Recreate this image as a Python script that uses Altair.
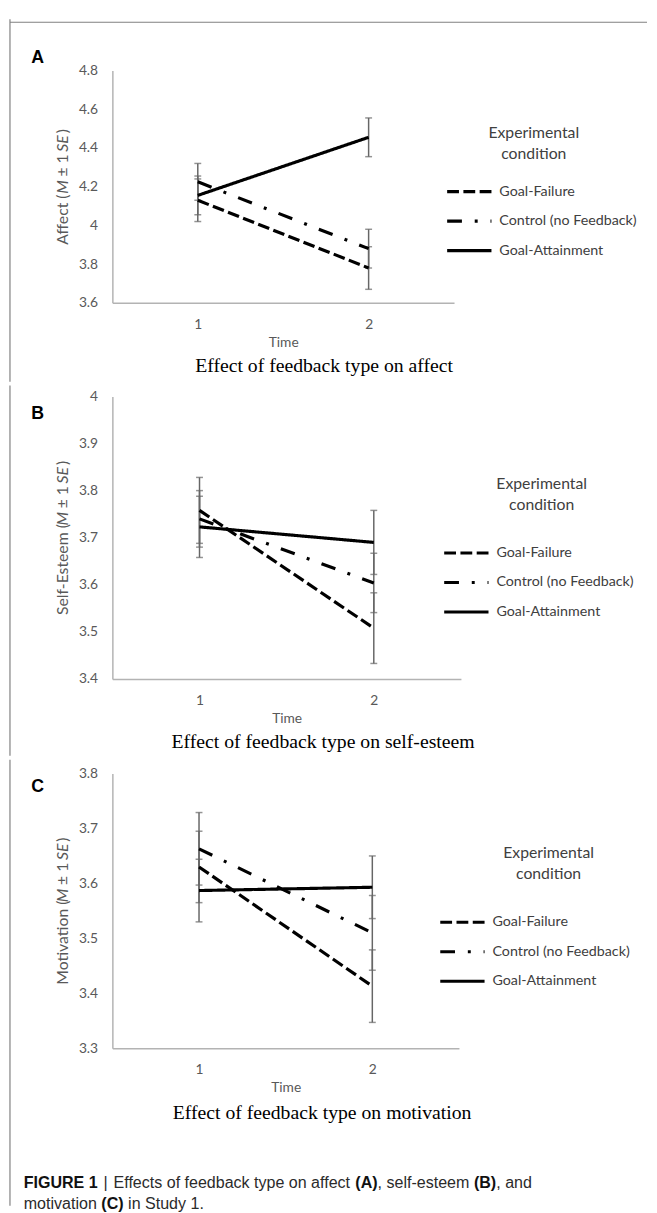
import altair as alt
import pandas as pd

# ---------------- data ----------------
conditions = ["Goal-Failure", "Control (no Feedback)", "Goal-Attainment"]
time_points = [1, 2]

affect_fail_mean = [4.13, 3.78]
affect_fail_se = [0.11, 0.11]
affect_ctrl_mean = [4.225, 3.88]
affect_ctrl_se = [0.095, 0.10]
affect_attain_mean = [4.155, 4.455]
affect_attain_se = [0.10, 0.10]
affect_ticks = [3.6, 3.8, 4.0, 4.2, 4.4, 4.6, 4.8]

esteem_fail_mean = [3.758, 3.508]
esteem_fail_se = [0.07, 0.075]
esteem_ctrl_mean = [3.74, 3.604]
esteem_ctrl_se = [0.06, 0.063]
esteem_attain_mean = [3.723, 3.69]
esteem_attain_se = [0.065, 0.068]
esteem_ticks = [3.4, 3.5, 3.6, 3.7, 3.8, 3.9, 4.0]

motiv_fail_mean = [3.63, 3.413]
motiv_fail_se = [0.065, 0.066]
motiv_ctrl_mean = [3.663, 3.51]
motiv_ctrl_se = [0.066, 0.068]
motiv_attain_mean = [3.587, 3.593]
motiv_attain_se = [0.057, 0.057]
motiv_ticks = [3.3, 3.4, 3.5, 3.6, 3.7, 3.8]

dash_patterns = [[12, 4.5], [15, 13, 3, 13], [1, 0]]

# ---------------- style ----------------
FONT = "Lato"
TXT = "#595959"
LEG_TXT = "#404040"
AXIS_GREY = "#b3b3b3"
ERR_GREY = "#666666"
BORDER = "#808080"

LATO = {'A': .68, 'B': .63, 'C': .66, 'E': .56, 'F': .53, 'M': .88, 'S': .51,
        'a': .49, 'c': .46, 'e': .52, 'f': .32, 'i': .23, 'l': .23, 'm': .82,
        'n': .55, 'o': .55, 's': .41, 't': .33, 'v': .50, '(': .30, ')': .30,
        '-': .34, '±': .58, '1': .58, ' ': .21}

ARIAL = {' ': 278, '|': 260, 'E': 667, 'f': 278, 'e': 556, 'c': 500, 't': 278,
         's': 500, 'o': 556, 'd': 556, 'b': 556, 'a': 556, 'k': 500, 'y': 500,
         'p': 556, 'n': 556, ',': 278, 'l': 222, '-': 333, 'm': 833, 'i': 222,
         'v': 500, 'S': 667, 'u': 556, '1': 556, '.': 278, '(': 333, ')': 333,
         'F': 611, 'I': 278, 'G': 778, 'U': 722, 'R': 722, 'A': 722, 'B': 722,
         'C': 722}


def lato_w(s, size):
    return sum(LATO.get(ch, .55) for ch in s) * size


def arial_w(s, size):
    return sum(ARIAL.get(ch, 556) for ch in s) * size / 1000


def make_df(fm, fs, cm, cs, am, as_):
    rows = []
    for cond, m, s in zip(conditions, [fm, cm, am], [fs, cs, as_]):
        for t, mi, si in zip(time_points, m, s):
            rows.append({"time": t, "cond": cond, "mean": mi,
                         "lo": mi - si, "hi": mi + si})
    return pd.DataFrame(rows)


def text_layer(txt, x, y, **kw):
    return alt.Chart(pd.DataFrame({"label": [txt]})).mark_text(**kw).encode(
        x=alt.value(x), y=alt.value(y), text="label:N")


def vrule(name, x, y1, y2):
    return alt.Chart(pd.DataFrame({"edge": [name]})).mark_rule(
        color=BORDER, strokeWidth=1.2).encode(
        x=alt.value(x), y=alt.value(y1), y2=alt.value(y2))


def hrule(name, x1, x2, y):
    return alt.Chart(pd.DataFrame({"edge": [name]})).mark_rule(
        color=BORDER, strokeWidth=1.2).encode(
        x=alt.value(x1), x2=alt.value(x2), y=alt.value(y))


def ytitle(pieces, h, x, size):
    widths = [lato_w(t, size) for t, _ in pieces]
    gaps = []
    for i, (t, _) in enumerate(pieces):
        if i == 0:
            gaps.append(0)
        elif t.startswith("±") or t == "SE":
            gaps.append(LATO[' '] * size)
        else:
            gaps.append(1.5)
    total = sum(widths) + sum(gaps)
    y = h / 2 + total / 2
    out = []
    for (t, it), w, g in zip(pieces, widths, gaps):
        y -= g
        kw = dict(angle=270, align="left", baseline="middle", font=FONT,
                  fontSize=size, color=TXT)
        if it:
            kw["fontStyle"] = "italic"
        out.append(text_layer(t, x, y, **kw))
        y -= w
    return out


def panel(key, df, w, h, ticks, title_pieces, letter, letter_xy, subtitle, sub_xy,
          leg_xy, ltitle_xy, border_y, extra=()):
    xs = alt.X("time:O", scale=alt.Scale(type="point", padding=0.5),
               axis=alt.Axis(title="Time", labelAngle=0, ticks=False, tickSize=0,
                             labelPadding=15, titlePadding=4, labelFont=FONT,
                             labelFontSize=14, labelColor=TXT, titleFont=FONT,
                             titleFontSize=14, titleFontWeight="normal",
                             titleColor=TXT, domainColor=AXIS_GREY,
                             domainWidth=1.5, grid=False))
    yscale = alt.Scale(domain=[min(ticks), max(ticks)], nice=False, zero=False)
    yaxis = alt.Axis(values=ticks, format="~g", title=None, grid=False,
                     ticks=False, tickSize=0, labelPadding=15, labelFont=FONT,
                     labelFontSize=14, labelColor=TXT, domainColor=AXIS_GREY,
                     domainWidth=1.5)
    base = alt.Chart(df)
    err = base.mark_rule(color=ERR_GREY, strokeWidth=1.5).encode(
        x=xs, y=alt.Y("lo:Q", scale=yscale, axis=yaxis), y2="hi:Q")
    cap_lo = base.mark_tick(orient="horizontal", size=7, thickness=1.5,
                            color=ERR_GREY).encode(
        x=xs, y=alt.Y("lo:Q", scale=yscale, axis=yaxis))
    cap_hi = base.mark_tick(orient="horizontal", size=7, thickness=1.5,
                            color=ERR_GREY).encode(
        x=xs, y=alt.Y("hi:Q", scale=yscale, axis=yaxis))
    lines = base.mark_line(color="black", strokeWidth=3.2, strokeCap="butt").encode(
        x=xs,
        y=alt.Y("mean:Q", scale=yscale, axis=yaxis),
        strokeDash=alt.StrokeDash(
            "cond:N",
            scale=alt.Scale(domain=conditions, range=dash_patterns),
            legend=alt.Legend(orient="none", legendX=leg_xy[0], legendY=leg_xy[1],
                              title=None, symbolType="stroke", symbolSize=2025,
                              symbolStrokeWidth=3.2, symbolStrokeColor="black",
                              labelFont=FONT, labelFontSize=14.5,
                              labelColor=LEG_TXT, labelOffset=6,
                              rowPadding=14, clipHeight=16)))
    layers = [err, cap_lo, cap_hi, lines]
    layers += ytitle(title_pieces, h, -50, 16)
    layers.append(text_layer(letter, letter_xy[0], letter_xy[1], font="Liberation Sans",
                             fontSize=18, fontWeight="bold", color="black",
                             align="center", baseline="middle"))
    layers.append(text_layer(subtitle, sub_xy[0], sub_xy[1], font="Liberation Serif",
                             fontSize=20, color="black", align="center",
                             baseline="middle"))
    layers.append(text_layer("Experimental", ltitle_xy[0], ltitle_xy[1], font=FONT,
                             fontSize=16, color=LEG_TXT, align="center",
                             baseline="middle"))
    layers.append(text_layer("condition", ltitle_xy[0], ltitle_xy[1] + 21, font=FONT,
                             fontSize=16, color=LEG_TXT, align="center",
                             baseline="middle"))
    layers.append(vrule(key + "-left", -104, border_y[0], border_y[1]))
    layers += list(extra)
    return alt.layer(*layers).properties(width=w, height=h)


# ---------- panel A ----------
dfa = make_df(affect_fail_mean, affect_fail_se, affect_ctrl_mean, affect_ctrl_se,
              affect_attain_mean, affect_attain_se)
pa = panel("A", dfa, 347, 236, affect_ticks,
           [("Affect (", False), ("M", True), ("± 1", False), ("SE", True), (")", False)],
           "A", (-76, -13), "Effect of feedback type on affect", (215, 300),
           (338, 115), (428, 64), (-52, 316),
           extra=[hrule("A-top", -104, 543, -49)])

# ---------- panel B ----------
dfb = make_df(esteem_fail_mean, esteem_fail_se, esteem_ctrl_mean, esteem_ctrl_se,
              esteem_attain_mean, esteem_attain_se)
pb = panel("B", dfb, 354, 287, esteem_ticks,
           [("Self-Esteem (", False), ("M", True), ("± 1", False), ("SE", True), (")", False)],
           "B", (-76, 18), "Effect of feedback type on self-esteem", (214, 351),
           (335, 151), (436, 89), (-11, 365))

# ---------- panel C with caption ----------
CAP = 16.3
cap_layers = []
line1 = [("FIGURE 1", True, 0), ("|", False, 1.3), ("Effects of feedback type on affect", False, 1.3),
         ("(A)", True, 1), (", self-esteem", False, 0), ("(B)", True, 1), (", and", False, 0)]
line2 = [("motivation", False, 0), ("(C)", True, 1), ("in Study 1.", False, 1)]
for line, yy in [(line1, 416), (line2, 437)]:
    xx = -90
    for txt, bold, sp in line:
        xx += sp * arial_w(" ", CAP)
        kw = dict(font="Liberation Sans", fontSize=CAP,
                  color="#2b2b2b", align="left", baseline="middle")
        if bold:
            kw["fontWeight"] = "bold"
            kw["color"] = "#111111"
        cap_layers.append(text_layer(txt, xx, yy, **kw))
        xx += arial_w(txt, CAP)

dfc = make_df(motiv_fail_mean, motiv_fail_se, motiv_ctrl_mean, motiv_ctrl_se,
              motiv_attain_mean, motiv_attain_se)
pc = panel("C", dfc, 352, 279, motiv_ticks,
           [("Motivation (", False), ("M", True), ("± 1", False), ("SE", True), (")", False)],
           "C", (-76, 14), "Effect of feedback type on motivation", (213, 345),
           (331, 143), (443, 81), (-14, 439), extra=cap_layers)

chart = alt.vconcat(pa, pb, pc, spacing=0).resolve_scale(
    x="independent", y="independent", strokeDash="independent"
).resolve_legend(strokeDash="independent").properties(
    padding=0, background="white"
).configure_view(stroke="transparent")

chart.save("out.html", embed_options={"renderer": "svg", "actions": False})
